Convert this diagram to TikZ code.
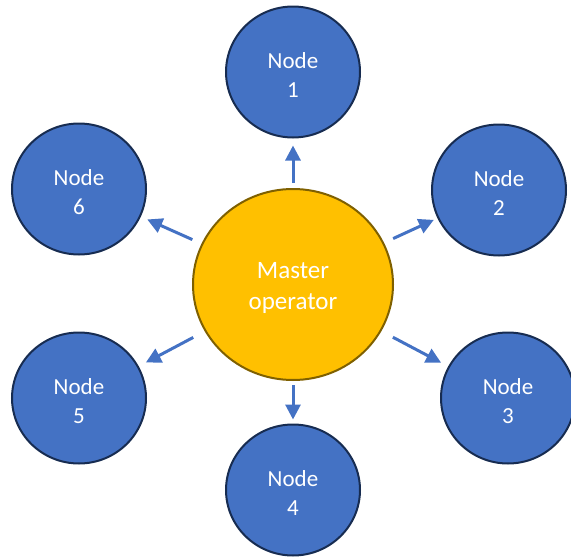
\documentclass[tikz,border=0pt]{standalone}
\usepackage{fontspec}
\setmainfont{Carlito}
\usetikzlibrary{arrows.meta,shapes.geometric}

\definecolor{nodeblue}{HTML}{4472C4}
\definecolor{nodeedge}{HTML}{172C51}
\definecolor{mastergold}{HTML}{FFC000}
\definecolor{masteredge}{HTML}{7F6000}

% tall invisible strut on the first line, so the label sits a little lower
\newcommand\toppad[1]{\rule{0pt}{#1}}

\tikzset{
  worker/.style={ellipse, draw=nodeedge, line width=2pt, fill=nodeblue,
    minimum width=134pt, minimum height=131pt, inner sep=0pt,
    text=white, align=center, font=\fontsize{23}{29}\selectfont},
  master/.style={ellipse, draw=masteredge, line width=2pt, fill=mastergold,
    minimum width=200pt, minimum height=191pt, inner sep=0pt,
    text=white, align=center, font=\fontsize{25}{31}\selectfont},
  link/.style={draw=nodeblue, line width=3pt,
    -{Triangle[width=15pt,length=15pt]}}
}

\begin{document}
\begin{tikzpicture}[x=1pt, y=-1pt]
  \useasboundingbox (0,0) rectangle (571,557);

  % central operator
  \node[master] (m) at (293,284.5) {\toppad{24pt}Master\\operator};

  % surrounding worker nodes
  \node[worker] (n1) at (293,72)  {\toppad{22pt}Node\\1};
  \node[worker] (n2) at (499,190) {\toppad{22pt}Node\\2};
  \node[worker] (n3) at (508,398) {\toppad{22pt}Node\\3};
  \node[worker] (n4) at (293,490) {\toppad{22pt}Node\\4};
  \node[worker] (n5) at (79,398)  {\toppad{22pt}Node\\5};
  \node[worker] (n6) at (79,189)  {\toppad{22pt}Node\\6};

  % arrows from the operator out to each node
  \draw[link, shorten <=5pt,  shorten >=7pt] (m) -- (n1);
  \draw[link, shorten <=10pt, shorten >=4pt] (m) -- (n2);
  \draw[link, shorten <=13pt, shorten >=8pt] (m) -- (n3);
  \draw[link, shorten <=4pt,  shorten >=4pt] (m) -- (n4);
  \draw[link, shorten <=13pt, shorten >=8pt] (m) -- (n5);
  \draw[link, shorten <=10pt, shorten >=7pt] (m) -- (n6);
\end{tikzpicture}
\end{document}
